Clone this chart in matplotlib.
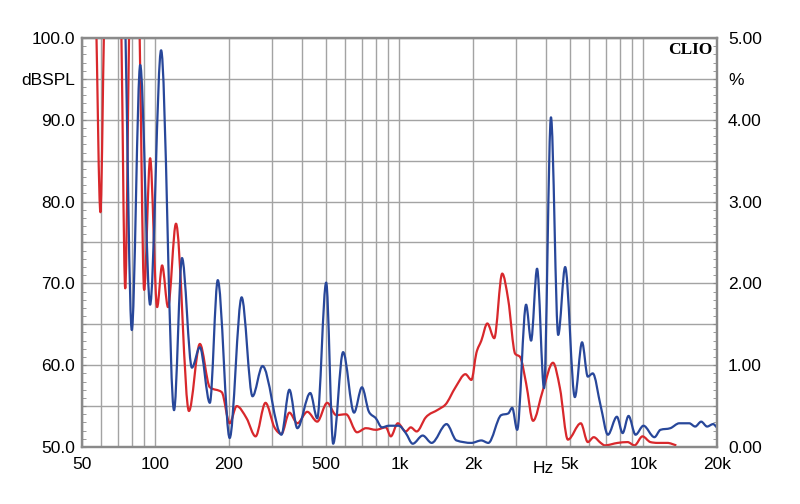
import numpy as np
import matplotlib
matplotlib.use("Agg")
import matplotlib.pyplot as plt
from matplotlib.path import Path
from matplotlib.patches import PathPatch
from matplotlib.ticker import FixedLocator, MultipleLocator, FuncFormatter, NullFormatter
from matplotlib.transforms import blended_transform_factory

plt.rcParams["font.family"] = ["Liberation Sans", "DejaVu Sans"]

# red trace (Hz, dB)
red_freq = [57, 59.5, 62, 68, 72, 75.2, 78.5, 82, 85.5, 89.9, 95.1, 101.6, 106.5, 112.6,
            121.4, 137.2, 152.1, 167.1, 187, 201.5, 215.3, 236.5, 257.3, 282.6, 307.5,
            328.4, 354, 381.6, 419.2, 460.5, 505.8, 550.6, 604.6, 670.4, 729.4, 801.2,
            879.9, 922.2, 984.9, 1062, 1113, 1177, 1281, 1447, 1546, 1698, 1865, 1973,
            2068, 2167, 2293, 2448, 2639, 2793, 2982, 3125, 3306, 3531, 3879, 4261, 4550,
            4904, 5541, 5919, 6261, 6686, 6943, 7845, 8615, 9200, 9918, 10690, 11420,
            12540, 13650]
red_db = [104, 78.7, 104, 110, 104, 69.4, 104, 110, 104, 69.2, 85.3, 67.1, 72.2, 67.1,
          77.3, 54.4, 62.6, 57.3, 56.7, 52.9, 55.0, 53.5, 51.3, 55.4, 52.4,
          51.6, 54.2, 52.9, 54.3, 53.1, 55.4, 53.9, 54.0, 51.8, 52.3, 52.1,
          52.4, 51.3, 52.9, 51.9, 52.4, 51.9, 53.6, 54.6, 55.2, 57.3, 58.9, 58.2,
          61.5, 63.0, 65.1, 63.3, 71.2, 68.0, 61.4, 61.0, 57.8, 53.2, 57.0, 60.3, 57.2,
          50.9, 52.9, 50.6, 51.2, 50.5, 50.2, 50.5, 50.6, 50.2, 51.3, 50.6, 50.5,
          50.5, 50.2]

# blue trace (Hz, dB)
blue_freq = [75, 80.0, 86.6, 95.1, 105.5, 119.2, 128.5, 141.1, 152.1, 167.1, 180.1, 201.5,
             225.6, 250, 274.8, 328.4, 354.0, 381.6, 431.2, 460.5, 501.0, 535.2, 587.8,
             651.8, 702.4, 750.2, 801.2, 847.5, 905.2, 994.3, 1062, 1134, 1246, 1356,
             1561, 1714, 1973, 2167, 2315, 2615, 2793, 2900, 3039, 3306, 3466, 3667,
             3916, 4181, 4476, 4780, 5238, 5607, 5919, 6203, 6686, 7157, 7789, 8222,
             8695, 9287, 10010, 11100, 11750, 12900, 14040, 15420, 16310, 17260, 18250,
             19320, 20000]
blue_db = [104, 64.3, 96.7, 67.4, 98.5, 54.5, 73.1, 59.7, 62.2, 55.4, 70.4, 51.1,
           68.3, 56.2, 59.9, 51.5, 57.0, 52.3, 56.6, 53.5, 70.1, 50.4, 61.6,
           54.2, 57.3, 54.3, 53.5, 52.4, 52.6, 52.6, 51.7, 50.4, 51.4, 50.5,
           52.8, 50.8, 50.5, 50.8, 50.5, 53.9, 54.1, 54.8, 52.1, 67.4, 63.0, 71.8,
           57.2, 90.3, 63.7, 72.0, 56.1, 62.8, 58.6, 59.0, 55.0, 51.5, 53.7, 51.7,
           53.8, 51.5, 52.6, 51.2, 52.1, 52.3, 52.9, 52.9, 52.5, 53.1, 52.5,
           52.8, 52.4]

x_labels = ["50", "100", "200", "500", "1k", "2k", "5k", "10k", "20k"]
x_label_freq = [50, 100, 200, 500, 1000, 2000, 5000, 10000, 20000]

grid_col = "#a3a3a3"
frame_col = "#8a8a8a"
blue = "#28479a"
red = "#d8282c"


def smooth_trace(freq, level):
    # monotone cubic bezier through the points, in log-frequency space
    u = np.log10(np.asarray(freq, float))
    y = np.asarray(level, float)
    h = np.diff(u)
    s = np.diff(y) / h
    t = np.zeros(len(u))
    t[0], t[-1] = s[0], s[-1]
    for i in range(1, len(u) - 1):
        if s[i - 1] * s[i] <= 0:
            t[i] = 0.0
        else:
            p = (s[i - 1] * h[i] + s[i] * h[i - 1]) / (h[i - 1] + h[i])
            t[i] = np.sign(s[i]) * min(abs(s[i - 1]), abs(s[i]), 0.5 * abs(p)) * 2
    verts = [(u[0], y[0])]
    codes = [Path.MOVETO]
    for i in range(len(u) - 1):
        d = h[i] / 3
        verts += [(u[i] + d, y[i] + d * t[i]), (u[i + 1] - d, y[i + 1] - d * t[i + 1]), (u[i + 1], y[i + 1])]
        codes += [Path.CURVE4] * 3
    verts = np.array(verts)
    verts[:, 0] = 10 ** verts[:, 0]
    return Path(verts, codes)


fig = plt.figure(figsize=(8, 5.04), dpi=100)
ax = fig.add_axes([0.1025, 0.1131, 0.7935, 0.8115])

ax.set_xscale("log")
ax.set_xlim(50, 20000)
ax.set_ylim(50, 100)

ax.add_patch(PathPatch(smooth_trace(red_freq, red_db), fill=False, edgecolor=red, lw=1.6,
                       joinstyle="round", zorder=3))
ax.add_patch(PathPatch(smooth_trace(blue_freq, blue_db), fill=False, edgecolor=blue, lw=1.6,
                       joinstyle="round", zorder=4))

grid_freq = [m * d for d in (10, 100, 1000, 10000) for m in range(1, 10)]
grid_freq = [f for f in grid_freq if 50 <= f <= 20000]
ax.xaxis.set_major_locator(FixedLocator(x_label_freq))
ax.xaxis.set_major_formatter(FuncFormatter(
    lambda v, p: x_labels[x_label_freq.index(int(round(v)))] if int(round(v)) in x_label_freq else ""))
ax.xaxis.set_minor_locator(FixedLocator([f for f in grid_freq if f not in x_label_freq]))
ax.xaxis.set_minor_formatter(NullFormatter())
ax.tick_params(axis="x", which="both", length=0, pad=7, labelsize=12.5, colors="black")

ax.yaxis.set_major_locator(MultipleLocator(5))
ax.yaxis.set_minor_locator(MultipleLocator(1))


def left_fmt(v, p):
    if abs(v - 95) < 0.01:
        return "dBSPL"
    if abs(v % 10) < 0.01:
        return f"{v:.1f}"
    return ""


ax.yaxis.set_major_formatter(FuncFormatter(left_fmt))
ax.tick_params(axis="y", which="both", direction="in", length=3, color=frame_col,
               labelsize=12.5, pad=5)

ax.grid(True, which="both", axis="x", color=grid_col, lw=1.0)
ax.grid(True, which="major", axis="y", color=grid_col, lw=1.0)
ax.set_axisbelow(True)

ax2 = ax.twinx()
ax2.set_ylim(0, 5)
ax2.yaxis.set_major_locator(MultipleLocator(0.5))
ax2.yaxis.set_minor_locator(MultipleLocator(0.1))


def right_fmt(v, p):
    if abs(v - 4.5) < 0.01:
        return "%"
    if abs(v - round(v)) < 0.01:
        return f"{v:.2f}"
    return ""


ax2.yaxis.set_major_formatter(FuncFormatter(right_fmt))
ax2.tick_params(axis="y", which="both", direction="in", length=3, color=frame_col,
                labelsize=12.5, pad=8)

for a in (ax, ax2):
    for s in a.spines.values():
        s.set_color(frame_col)
        s.set_linewidth(1.6)

trans = blended_transform_factory(ax.transData, ax.transAxes)
ax.text(3900, -0.035, "Hz", transform=trans, ha="center", va="top", fontsize=12.5)

ax.text(0.993, 0.99, "CLIO", transform=ax.transAxes, ha="right", va="top",
        fontsize=12.5, fontweight="bold", family="Liberation Serif", zorder=6)

fig.savefig("out.png", dpi=100, facecolor="white")
